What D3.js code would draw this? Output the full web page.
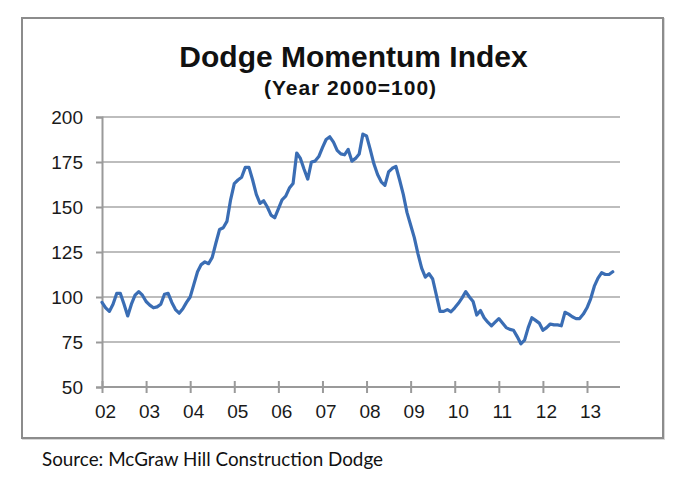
<!DOCTYPE html>
<html>
<head>
<meta charset="utf-8">
<script src="https://cdn.jsdelivr.net/npm/d3@7"></script>
<style>
  html, body { margin: 0; padding: 0; background: #fff; }
  svg { display: block; }
</style>
</head>
<body>
<svg id="chart" width="696" height="480"></svg>
<script>
// ---- Data (monthly, Jan 2002 .. Aug 2013) ----
const startYear = 2002;
const values = [
  97, 94, 92, 96, 102, 102, 96, 89.5, 96, 101, 103, 101,           // 2002
  97.5, 95.5, 94, 94.5, 96, 101.5, 102, 97, 93, 91, 93.5, 97,      // 2003
  100, 107, 114, 118, 119.5, 118.5, 122, 130, 137.5, 138.5, 142, 154, // 2004
  163, 165, 166.5, 172, 172, 165, 157, 152, 153.5, 150, 145.5, 144,   // 2005
  149, 154, 156, 160.5, 163, 180, 177, 171, 165.5, 175, 175.5, 178,   // 2006
  183, 187.5, 189, 186, 181.5, 179.5, 179, 182, 175.5, 177, 179.5, 190.5, // 2007
  189.5, 182, 174, 168, 164, 162, 169.5, 171.5, 172.5, 165, 157, 147, // 2008
  140, 133, 124, 116, 111, 113, 110, 101, 92, 92, 93, 91.8,          // 2009
  94, 96.5, 99.5, 103, 100, 97.5, 90, 92.5, 88.5, 86, 84, 86,        // 2010
  88, 85.5, 83, 82, 81.5, 78, 74, 76, 83, 88.5, 87, 85.5,            // 2011
  81.5, 83, 85, 84.5, 84.5, 84, 91.5, 90.5, 89, 88, 88, 90.5,        // 2012
  94, 99, 106, 110.5, 113.5, 112.5, 112.5, 114                        // 2013
];
const yTicks = [50, 75, 100, 125, 150, 175, 200];
const xTickYears = [2002, 2003, 2004, 2005, 2006, 2007, 2008, 2009, 2010, 2011, 2012, 2013];
const xTickLabels = ["02", "03", "04", "05", "06", "07", "08", "09", "10", "11", "12", "13"];
const titleText = "Dodge Momentum Index";
const subtitleText = "(Year 2000=100)";
const sourceText = "Source: McGraw Hill Construction Dodge";

const data = values.map((v, i) => ({ t: startYear + i / 12, v }));

// ---- Layout ----
const svg = d3.select("#chart");
const plotLeft = 102, plotRight = 620, plotTop = 117, plotBottom = 387;

const x = d3.scaleLinear().domain([2002, 2013]).range([plotLeft, 587]);
const y = d3.scaleLinear().domain([50, 200]).range([plotBottom, plotTop]);

// Border box
svg.append("rect")
  .attr("x", 23).attr("y", 19).attr("width", 641).attr("height", 420)
  .attr("fill", "none").attr("stroke", "#d8d8d8").attr("stroke-width", 2);
svg.append("rect")
  .attr("x", 22).attr("y", 18).attr("width", 641).attr("height", 420)
  .attr("fill", "#fff").attr("stroke", "#8c8c8c").attr("stroke-width", 2);

// Title
svg.append("text")
  .attr("x", 353.5).attr("y", 67)
  .attr("text-anchor", "middle")
  .attr("font-family", "Liberation Sans, Arial, sans-serif")
  .attr("font-weight", "bold").attr("font-size", 30)
  .attr("fill", "#111")
  .text(titleText);
svg.append("text")
  .attr("x", 350.5).attr("y", 95)
  .attr("text-anchor", "middle")
  .attr("font-family", "Liberation Sans, Arial, sans-serif")
  .attr("font-weight", "bold").attr("font-size", 21)
  .attr("letter-spacing", 1)
  .attr("fill", "#111")
  .text(subtitleText);

// Gridlines
svg.append("g")
  .selectAll("line")
  .data(yTicks.filter(d => d !== 50))
  .join("line")
  .attr("x1", plotLeft).attr("x2", plotRight)
  .attr("y1", d => y(d)).attr("y2", d => y(d))
  .attr("stroke", "#bdbdbd").attr("stroke-width", 2);

// Y axis
const yAxis = svg.append("g").attr("transform", `translate(${plotLeft},0)`)
  .call(d3.axisLeft(y).tickValues(yTicks).tickSize(6).tickPadding(13).tickFormat(d3.format("d")));
yAxis.select(".domain").attr("stroke", "#9a9a9a").attr("stroke-width", 2);
yAxis.selectAll(".tick line").attr("stroke", "#9a9a9a").attr("stroke-width", 2);
yAxis.selectAll(".tick text")
  .attr("font-family", "Liberation Sans, Arial, sans-serif")
  .attr("font-size", 19).attr("fill", "#1a1a1a");

// X axis
const xAxis = svg.append("g").attr("transform", `translate(0,${plotBottom})`)
  .call(d3.axisBottom(x)
    .tickValues(xTickYears).tickSize(6).tickPadding(12)
    .tickFormat((d, i) => xTickLabels[i]));
xAxis.select(".domain").remove();
xAxis.append("line")
  .attr("x1", plotLeft).attr("x2", plotRight).attr("y1", 0).attr("y2", 0)
  .attr("stroke", "#9a9a9a").attr("stroke-width", 2);
xAxis.selectAll(".tick line").attr("y1", -6).attr("y2", 6)
  .attr("stroke", "#9a9a9a").attr("stroke-width", 2);
xAxis.selectAll(".tick text")
  .attr("dx", 3)
  .attr("font-family", "Liberation Sans, Arial, sans-serif")
  .attr("font-size", 19).attr("fill", "#1a1a1a");

// Line
const line = d3.line().x(d => x(d.t)).y(d => y(d.v)).curve(d3.curveLinear);
svg.append("path")
  .datum(data)
  .attr("d", line)
  .attr("fill", "none")
  .attr("stroke", "#3a6db4")
  .attr("stroke-width", 3.2)
  .attr("stroke-linejoin", "round")
  .attr("stroke-linecap", "round");

// Source
svg.append("text")
  .attr("x", 42).attr("y", 466)
  .attr("font-family", "Lato, 'Open Sans', sans-serif")
  .attr("font-size", 19).attr("fill", "#111")
  .attr("textLength", 341).attr("lengthAdjust", "spacingAndGlyphs")
  .text(sourceText);
</script>
</body>
</html>
